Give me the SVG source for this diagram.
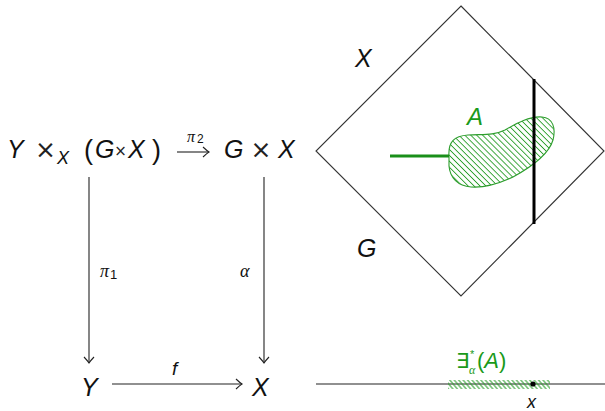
<svg xmlns="http://www.w3.org/2000/svg" width="605" height="411" viewBox="0 0 605 411">
<style>
.m{font-family:"Liberation Sans","DejaVu Sans",sans-serif;font-style:italic;fill:#111}
.u{font-family:"Liberation Sans","DejaVu Sans",sans-serif;fill:#111}
.t{font-family:"DejaVu Sans","Liberation Sans",sans-serif;fill:#222}
.g{font-family:"Liberation Sans","DejaVu Sans",sans-serif;font-style:italic;fill:#1a9a1a}
.gu{font-family:"Liberation Sans","DejaVu Sans",sans-serif;fill:#1a9a1a}
.s{font-family:"Liberation Serif","DejaVu Serif",serif;font-style:italic;fill:#111}
.ln{stroke:#222;stroke-width:1.1;fill:none}
</style>
<defs>
<marker id="ah" markerWidth="12" markerHeight="12" refX="0" refY="0" viewBox="-7 -6 8 12" markerUnits="userSpaceOnUse" orient="auto">
<path d="M-6,-5 Q-2,-1.2 0,0 Q-2,1.2 -6,5" fill="none" stroke="#222" stroke-width="1.1"/>
</marker>
<pattern id="hatch" patternUnits="userSpaceOnUse" width="10" height="4.2" patternTransform="rotate(45)">
<line x1="0" y1="2.1" x2="10" y2="2.1" stroke="#2a9e2a" stroke-width="0.9"/>
</pattern>
<pattern id="hatch2" patternUnits="userSpaceOnUse" width="10" height="3.4" patternTransform="rotate(50)">
<line x1="0" y1="1.7" x2="10" y2="1.7" stroke="#2a9e2a" stroke-width="1"/>
</pattern>
</defs>

<g id="node-YxGX">
<text class="m" x="7" y="158" font-size="25">Y</text>
<text class="t" x="45.5" y="158" font-size="25" text-anchor="middle">×</text>
<text class="m" x="57" y="164" font-size="18">X</text>
<text class="u" x="84" y="159" font-size="27">(</text>
<text class="m" x="95" y="158" font-size="25">G</text>
<text class="t" x="120.5" y="156" font-size="15" text-anchor="middle">×</text>
<text class="m" x="128" y="158" font-size="25">X</text>
<text class="u" x="152" y="159" font-size="27">)</text>
</g>
<g id="node-GxX">
<text class="m" x="224" y="158" font-size="25">G</text>
<text class="t" x="261" y="158" font-size="25" text-anchor="middle">×</text>
<text class="m" x="278" y="158" font-size="25">X</text>
</g>
<g id="node-Y">
<text class="m" x="81" y="396" font-size="25">Y</text>
</g>
<g id="node-X">
<text class="m" x="252" y="396" font-size="25">X</text>
</g>

<g id="connectors">
<line class="ln" x1="177" y1="152" x2="209" y2="152" marker-end="url(#ah)"/>
<line class="ln" x1="89" y1="177" x2="89" y2="363" marker-end="url(#ah)"/>
<line class="ln" x1="264" y1="177" x2="264" y2="363" marker-end="url(#ah)"/>
<line class="ln" x1="112" y1="384" x2="242" y2="384" marker-end="url(#ah)"/>
</g>
<g id="labels">
<text class="s" x="187" y="142" font-size="16">π</text>
<text class="u" x="197" y="143" font-size="12">2</text>
<text class="s" x="100" y="277" font-size="18">π</text>
<text class="u" x="110" y="279" font-size="13">1</text>
<text class="s" x="240" y="277" font-size="18">α</text>
<text class="m" x="172" y="375" font-size="19">f</text>
</g>

<g id="plane">
<polygon points="461,6 604,151 461,296 316,151" fill="none" stroke="#333" stroke-width="1.1"/>
<text class="m" x="355" y="67" font-size="25">X</text>
<text class="m" x="357" y="257" font-size="25">G</text>
<path d="M449,156 C448,142 454,136 468,135 C482,134 493,136 505,130 C517,123 530,116 542,117 C553,118 556,128 553,140 C549,154 533,166 513,177 C498,184 485,188 471,187 C458,186 450,178 449,166 Z" fill="url(#hatch)" stroke="#2e9e2e" stroke-width="1.1"/>
<line x1="390" y1="156" x2="449" y2="156" stroke="#1a8f1a" stroke-width="3"/>
<line x1="534" y1="79" x2="534" y2="224" stroke="#000" stroke-width="3"/>
<text class="g" x="467" y="125" font-size="24">A</text>
</g>

<g id="line-bottom">
<line x1="316" y1="384" x2="605" y2="384" stroke="#222" stroke-width="1.2"/>
<rect x="448" y="380" width="102" height="9" fill="url(#hatch2)"/>
<circle cx="533" cy="384" r="2.6" fill="#000"/>
<text class="m" x="527" y="408" font-size="18">x</text>
<text class="gu" x="456" y="368" font-size="21">∃</text>
<text class="gu" x="470" y="358" font-size="11">*</text>
<text class="s" x="469" y="374" font-size="12" style="fill:#1a9a1a">α</text>
<text class="gu" x="477" y="368" font-size="22">(<tspan class="g">A</tspan>)</text>
</g>
</svg>
